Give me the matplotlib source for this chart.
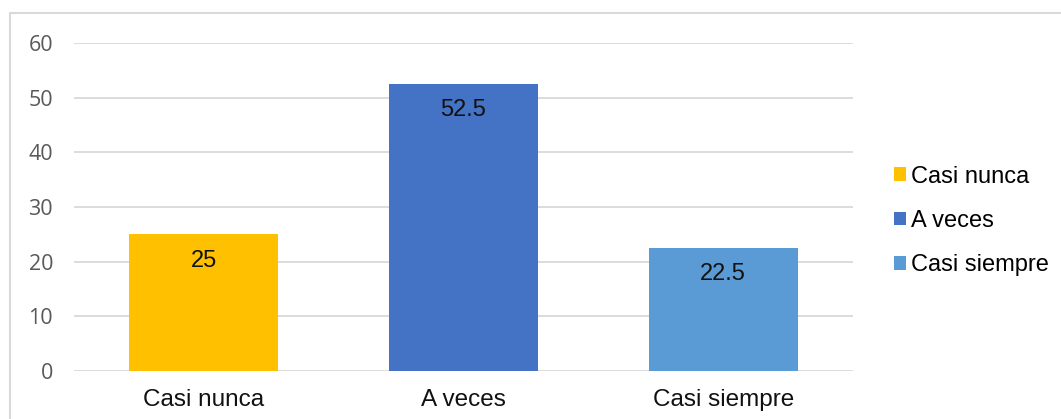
import matplotlib.pyplot as plt
from matplotlib.patches import Rectangle, Patch

categories = ["Casi nunca", "A veces", "Casi siempre"]
values = [25, 52.5, 22.5]
value_labels = ["25", "52.5", "22.5"]
colors = ["#FFC000", "#4472C4", "#5B9BD5"]
yticks = [0, 10, 20, 30, 40, 50, 60]

fig = plt.figure(figsize=(10.61, 4.19), dpi=100)
ax = fig.add_axes([74 / 1061, 1 - 371 / 419, (853 - 74) / 1061, (371 - 43) / 419])

# outer chart border (like the office chart frame)
fig.patches.append(Rectangle((10 / 1061, -0.05), 1.0, 0.05 + (1 - 13 / 419),
                             transform=fig.transFigure, fill=False,
                             edgecolor="#d9d9d9", linewidth=1.5))

x = range(len(categories))
bars = ax.bar(x, values, width=0.574, color=colors, zorder=3)

for b, lab in zip(bars, value_labels):
    ax.text(b.get_x() + b.get_width() / 2, b.get_height() - 4.8, lab,
            ha="center", va="center", fontsize=17, family="Liberation Sans",
            color="#111111", zorder=4)

ax.set_xlim(-0.5, 2.5)
ax.set_ylim(0, 60)
ax.set_yticks(yticks)
ax.set_yticklabels([str(t) for t in yticks], family="Open Sans", fontsize=15.5,
                   color="#595959")
ax.set_xticks(list(x))
ax.set_xticklabels(categories, family="Liberation Sans", fontsize=17.5, color="#111111")
ax.tick_params(axis="both", length=0)
ax.tick_params(axis="y", pad=15)
ax.tick_params(axis="x", pad=13)

ax.grid(axis="y", color="#d9d9d9", linewidth=1.3, zorder=0)
for s in ax.spines.values():
    s.set_visible(False)

handles = [Patch(facecolor=c, edgecolor="none") for c in colors]
fig.legend(handles, categories, loc="center left", bbox_to_anchor=(894 / 1061, 1 - 221 / 419),
           frameon=False, prop={"family": "Liberation Sans", "size": 17},
           borderpad=0, borderaxespad=0,
           handlelength=0.51, handleheight=0.51, handletextpad=0.2, labelspacing=0.95)

fig.savefig("out.png", dpi=100)
